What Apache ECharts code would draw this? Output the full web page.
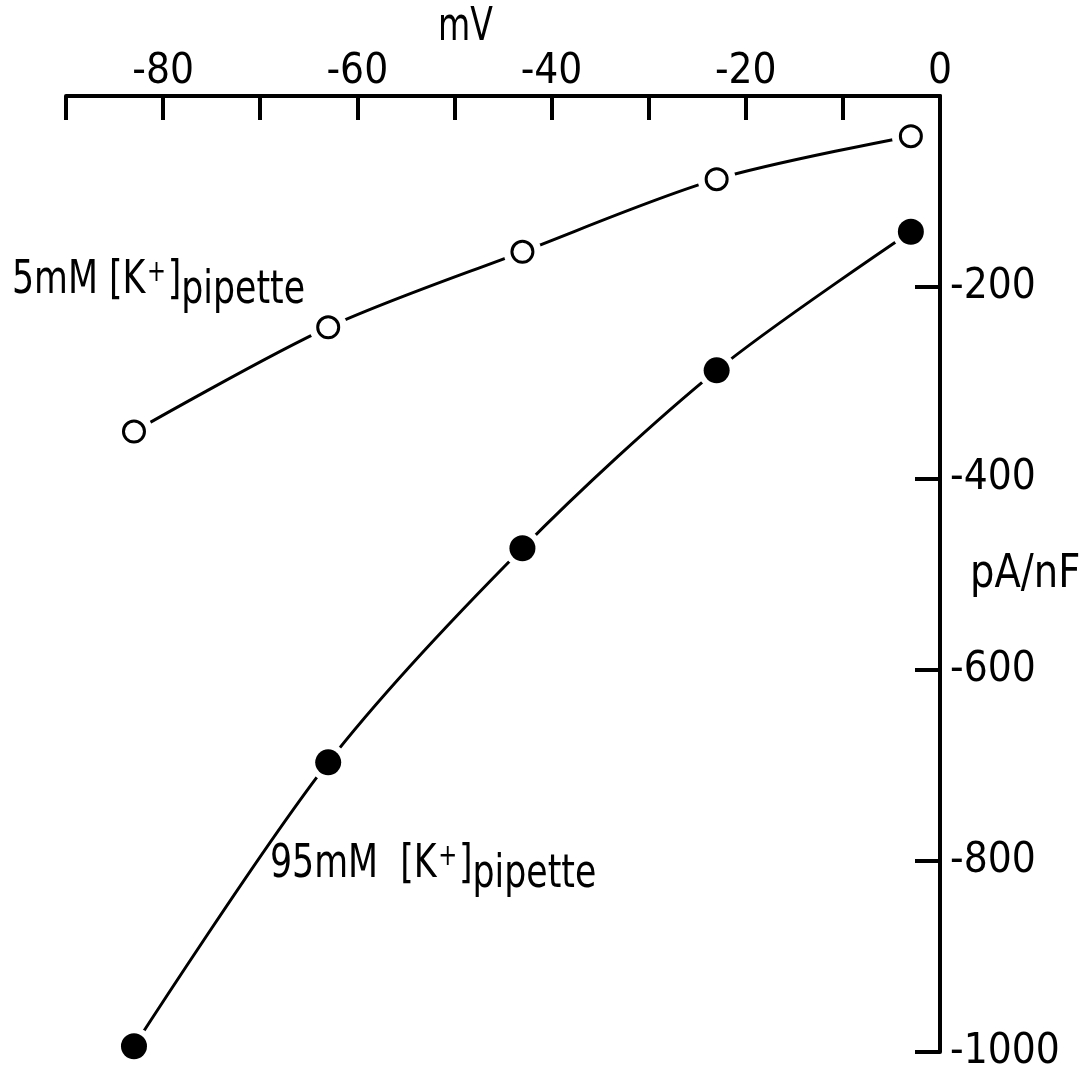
<!DOCTYPE html>
<html>
<head>
<meta charset="utf-8">
<script src="https://cdn.jsdelivr.net/npm/echarts@6/dist/echarts.min.js"></script>
<style>
  html, body { margin: 0; padding: 0; background: #fff; }
  #chart { width: 1086px; height: 1085px; }
</style>
</head>
<body>
<div id="chart"></div>
<script>
// Membrane potential (mV) at which each current density was measured
const voltage = [-83, -63, -43, -23, -3];
// Current density (pA/nF) with 5 mM K+ in the pipette
const current5 = [-351, -242, -163, -87, -42];
// Current density (pA/nF) with 95 mM K+ in the pipette
const current95 = [-994, -697, -473, -287, -142];
// Labelled ticks
const xTickLabels = [-80, -60, -40, -20, 0];
const yTickLabels = [-200, -400, -600, -800, -1000];

const FONT = "'DejaVu Sans Condensed', 'DejaVu Sans', sans-serif";
const INK = '#000';

const pairs = (ys) => voltage.map((v, i) => [v, ys[i]]);

const chart = echarts.init(document.getElementById('chart'), null, { renderer: 'canvas' });

const curve = (ys) => ({
  type: 'line',
  data: pairs(ys),
  smooth: 0.3,
  symbol: 'none',
  lineStyle: { color: INK, width: 3 },
  z: 2,
  silent: true
});

// white discs that open a small gap in the line around each marker
const halo = (ys) => ({
  type: 'scatter',
  data: pairs(ys),
  symbol: 'circle',
  symbolSize: 38,
  itemStyle: { color: '#fff', opacity: 1 },
  z: 3,
  silent: true
});

const richStyles = {
  n: { fontFamily: FONT, fontSize: 46, lineHeight: 56, verticalAlign: 'top', color: INK },
  sup: { fontFamily: FONT, fontSize: 30, lineHeight: 34, verticalAlign: 'top', color: INK, padding: [0, 2, 0, 2] },
  sub: { fontFamily: FONT, fontSize: 46, lineHeight: 56, verticalAlign: 'bottom', color: INK }
};

chart.setOption({
  animation: false,
  backgroundColor: '#fff',
  grid: { left: 66, right: 146, top: 96, bottom: 33, containLabel: false },
  xAxis: {
    type: 'value',
    position: 'top',
    min: -90,
    max: 0,
    interval: 10,
    axisLine: { show: true, onZero: false, lineStyle: { color: INK, width: 4 } },
    axisTick: { show: true, inside: true, length: 24, lineStyle: { color: INK, width: 4 } },
    splitLine: { show: false },
    axisLabel: {
      margin: 3,
      color: INK,
      fontFamily: FONT,
      fontSize: 42,
      showMinLabel: true,
      showMaxLabel: true,
      formatter: (v) => (xTickLabels.includes(v) ? String(v) : '')
    }
  },
  yAxis: {
    type: 'value',
    position: 'right',
    min: -1000,
    max: 0,
    interval: 200,
    axisLine: { show: true, onZero: false, lineStyle: { color: INK, width: 4 } },
    axisTick: { show: true, inside: true, length: 25, lineStyle: { color: INK, width: 4 } },
    splitLine: { show: false },
    axisLabel: {
      margin: 10,
      color: INK,
      fontFamily: FONT,
      fontSize: 42,
      formatter: (v) => (yTickLabels.includes(v) ? String(v) : '')
    }
  },
  graphic: [
    {
      type: 'text', x: 438, y: 5, scaleX: 0.8,
      style: { text: 'mV', font: '46px ' + FONT, fill: INK }
    },
    {
      type: 'text', x: 970, y: 552, scaleX: 0.93,
      style: { text: 'pA/nF', font: '46px ' + FONT, fill: INK }
    },
    {
      type: 'text', x: 12, y: 258, scaleX: 0.84,
      style: { text: '{n|5mM [K}{sup|+}{n|]}{sub|pipette}', rich: richStyles, lineHeight: 66 }
    },
    {
      type: 'text', x: 270, y: 842, scaleX: 0.84,
      style: { text: '{n|95mM  [K}{sup|+}{n|]}{sub|pipette}', rich: richStyles, lineHeight: 66 }
    }
  ],
  series: [
    curve(current5),
    curve(current95),
    halo(current5),
    halo(current95),
    {
      name: '5mM',
      type: 'scatter',
      data: pairs(current5),
      symbol: 'circle',
      symbolSize: 21,
      itemStyle: { color: '#fff', borderColor: INK, borderWidth: 3, opacity: 1 },
      z: 4
    },
    {
      name: '95mM',
      type: 'scatter',
      data: pairs(current95),
      symbol: 'circle',
      symbolSize: 26,
      itemStyle: { color: INK, opacity: 1 },
      z: 4
    }
  ]
});
</script>
</body>
</html>
